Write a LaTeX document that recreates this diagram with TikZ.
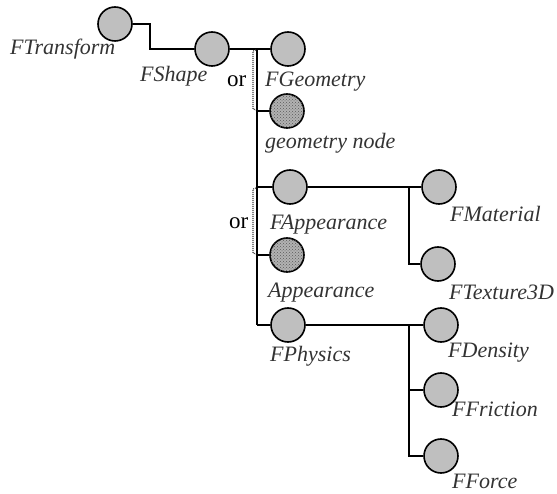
\documentclass[tikz,border=0pt]{standalone}
\usepackage{fontspec}
\setmainfont{Liberation Serif}
\usetikzlibrary{patterns}
\begin{document}
\begin{tikzpicture}[x=1pt,y=-1pt,
  ball/.style={circle,draw=black,line width=1.6pt,fill=black!25,minimum size=34pt,inner sep=0pt},
  hball/.style={ball,fill=black!30,postaction={pattern=crosshatch dots,pattern color=black!65}},
  conn/.style={line width=1.6pt,draw=black},
  orbr/.style={dash pattern=on 1pt off 1pt,line width=1.1pt,draw=black!75},
  lbl/.style={anchor=base west,inner sep=0pt,font=\fontsize{22}{22}\selectfont\itshape,text=black!80},
  ortext/.style={anchor=base west,inner sep=0pt,font=\fontsize{23}{23}\selectfont,text=black}]
\useasboundingbox (0,0) rectangle (557,494);
% nodes
\node[ball] (tr) at (115,24) {};
\node[ball] (sh) at (212,49) {};
\node[ball] (geo) at (288,49) {};
\node[hball] (gn) at (287,111) {};
\node[ball] (app) at (290,187) {};
\node[hball] (ap2) at (287,255) {};
\node[ball] (mat) at (439,187) {};
\node[ball] (tex) at (438,264) {};
\node[ball] (phy) at (288,325) {};
\node[ball] (den) at (441,325) {};
\node[ball] (fri) at (441,390) {};
\node[ball] (frc) at (441,456) {};
% junction coordinates
\coordinate (j1) at (150,24);
\coordinate (j2) at (150,49);
\coordinate (t0) at (257,49);
\coordinate (t1) at (257,111);
\coordinate (t2) at (257,187);
\coordinate (t3) at (257,255);
\coordinate (t4) at (257,325);
\coordinate (m0) at (409,187);
\coordinate (m1) at (409,264);
\coordinate (p0) at (409,325);
\coordinate (p1) at (409,390);
\coordinate (p2) at (409,456);
% connectors
\draw[conn] (tr.east) -- (j1) -- (j2) -- (sh.west);
\draw[conn] (sh.east) -- (geo.west);
\draw[conn] (t0) -- (t4);
\draw[conn] (t1) -- (gn.west);
\draw[conn] (t2) -- (app.west);
\draw[conn] (t3) -- (ap2.west);
\draw[conn] (t4) -- (phy.west);
\draw[conn] (app.east) -- (mat.west);
\draw[conn] (m0) -- (m1) -- (tex.west);
\draw[conn] (phy.east) -- (den.west);
\draw[conn] (p0) -- (p2) -- (frc.west);
\draw[conn] (p1) -- (fri.west);
% or brackets
\draw[orbr] (256,50) -- (253,51) -- (253,109) -- (256,110);
\draw[orbr] (256,188) -- (253,189) -- (253,253) -- (256,254);
% labels
\node[lbl] (ltr) at (10,55) {FTransform};
\node[lbl] (lsh) at (140,82) {FShape};
\node[lbl] (lgeo) at (265,87) {FGeometry};
\node[lbl] (lgn) at (265,149) {geometry node};
\node[lbl] (lapp) at (270,230) {FAppearance};
\node[lbl] (lap2) at (268,298) {Appearance};
\node[lbl] (lmat) at (450,222) {FMaterial};
\node[lbl] (ltex) at (449,300) {FTexture3D};
\node[lbl] (lphy) at (270,362) {FPhysics};
\node[lbl] (lden) at (448,357) {FDensity};
\node[lbl] (lfri) at (452,416) {FFriction};
\node[lbl] (lfrc) at (452,488) {FForce};
\node[ortext] (or1) at (227,87) {or};
\node[ortext] (or2) at (229,229) {or};
\end{tikzpicture}
\end{document}
